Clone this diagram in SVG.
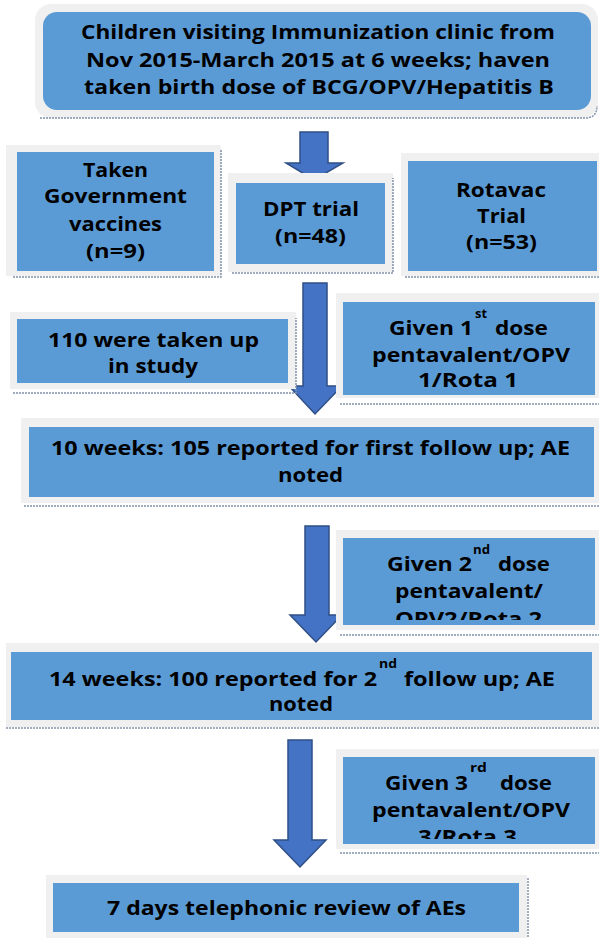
<svg xmlns="http://www.w3.org/2000/svg" width="599" height="938" viewBox="0 0 599 938">
<style>
.frame{fill:#f0f0f0}
.shadow{stroke:#8193ab;stroke-width:1.5;stroke-dasharray:2 1;fill:none}
.box{fill:#5b9bd5}
.t{font-family:"Open Sans",Lato,"Liberation Sans",sans-serif;font-weight:bold;font-size:19.5px;fill:#000}
.sup{font-size:12px}
.arrow{fill:#4472c4;stroke:#2f4f85;stroke-width:1.5}
</style>
<defs>
<clipPath id="c2"><rect x="343" y="538" width="256" height="82"/></clipPath>
<clipPath id="c3"><rect x="343" y="757" width="256" height="82"/></clipPath>
</defs>
<rect width="599" height="938" fill="#fff"/>

<g id="connectors">
<path class="arrow" d="M300,132 H328 V163 H343 L314,180 L286,163 H300 Z"/>
<path class="arrow" d="M303,283 H327 V386 H342 L315,414 L289,386 H303 Z"/>
<path class="arrow" d="M305,526 H329 V615 H342 L316,642 L290,615 H305 Z"/>
<path class="arrow" d="M288,740 H312 V840 H326 L300,867 L274,840 H288 Z"/>
</g>

<g id="n-start">
<rect class="frame" x="35" y="4" width="563" height="114" rx="16"/>
<path class="shadow" d="M40,118 H585 Q597,118 597,106"/>
<rect class="box" x="43" y="12" width="548" height="98" rx="14"/>
<text class="t" x="81" y="39" textLength="474" lengthAdjust="spacingAndGlyphs">Children visiting Immunization clinic from</text>
<text class="t" x="86" y="67" textLength="464" lengthAdjust="spacingAndGlyphs">Nov 2015-March 2015 at 6 weeks; haven</text>
<text class="t" x="84" y="94" textLength="470" lengthAdjust="spacingAndGlyphs">taken birth dose of BCG/OPV/Hepatitis B</text>
</g>

<g id="n-gov">
<rect class="frame" x="6" y="145" width="215" height="131"/>
<path class="shadow" d="M13,277 H221 V150"/>
<rect class="box" x="17" y="152" width="197" height="119"/>
<text class="t" x="83" y="177" textLength="65" lengthAdjust="spacingAndGlyphs">Taken</text>
<text class="t" x="44" y="203" textLength="143" lengthAdjust="spacingAndGlyphs">Government</text>
<text class="t" x="69" y="231" textLength="93" lengthAdjust="spacingAndGlyphs">vaccines</text>
<text class="t" x="86" y="258" textLength="59" lengthAdjust="spacingAndGlyphs">(n=9)</text>
</g>

<g id="n-dpt">
<rect class="frame" x="228" y="173" width="165" height="99"/>
<path class="shadow" d="M232,273 H393 V178"/>
<rect class="box" x="236" y="183" width="149" height="81"/>
<text class="t" x="263" y="216" textLength="96" lengthAdjust="spacingAndGlyphs">DPT trial</text>
<text class="t" x="275" y="243" textLength="71" lengthAdjust="spacingAndGlyphs">(n=48)</text>
</g>

<g id="n-rota">
<rect class="frame" x="401" y="153" width="198" height="123"/>
<path class="shadow" d="M405,277 H599"/>
<rect class="box" x="408" y="161" width="189" height="110"/>
<text class="t" x="456" y="197" textLength="90" lengthAdjust="spacingAndGlyphs">Rotavac</text>
<text class="t" x="477" y="223" textLength="49" lengthAdjust="spacingAndGlyphs">Trial</text>
<text class="t" x="466" y="249" textLength="71" lengthAdjust="spacingAndGlyphs">(n=53)</text>
</g>

<g id="n-110">
<rect class="frame" x="10" y="312" width="286" height="77"/>
<path class="shadow" d="M13,393 H296 V318"/>
<rect class="box" x="17" y="319" width="271" height="64"/>
<text class="t" x="48" y="347" textLength="211" lengthAdjust="spacingAndGlyphs">110 were taken up</text>
<text class="t" x="108" y="373" textLength="90" lengthAdjust="spacingAndGlyphs">in study</text>
</g>

<g id="n-dose1">
<rect class="frame" x="336" y="293" width="263" height="105"/>
<path class="shadow" d="M340,404 H599"/>
<rect class="box" x="343" y="302" width="252" height="93"/>
<text class="t" x="389" y="335" textLength="84" lengthAdjust="spacingAndGlyphs">Given 1</text>
<text class="t sup" x="475" y="318" textLength="12" lengthAdjust="spacingAndGlyphs">st</text>
<text class="t" x="495" y="335" textLength="53" lengthAdjust="spacingAndGlyphs">dose</text>
<text class="t" x="372" y="362" textLength="198" lengthAdjust="spacingAndGlyphs">pentavalent/OPV</text>
<text class="t" x="418" y="387" textLength="100" lengthAdjust="spacingAndGlyphs">1/Rota 1</text>
</g>

<g id="n-10wk">
<rect class="frame" x="21" y="418" width="578" height="85"/>
<path class="shadow" d="M24,506 H599"/>
<rect class="box" x="29" y="427" width="565" height="70"/>
<text class="t" x="51" y="455" textLength="519" lengthAdjust="spacingAndGlyphs">10 weeks: 105 reported for first follow up; AE</text>
<text class="t" x="278" y="482" textLength="65" lengthAdjust="spacingAndGlyphs">noted</text>
</g>

<g id="n-dose2">
<rect class="frame" x="336" y="530" width="263" height="100"/>
<path class="shadow" d="M340,635 H599"/>
<rect class="box" x="343" y="538" width="252" height="87"/>
<g clip-path="url(#c2)">
<text class="t" x="387" y="571" textLength="85" lengthAdjust="spacingAndGlyphs">Given 2</text>
<text class="t sup" x="473" y="554" textLength="17" lengthAdjust="spacingAndGlyphs">nd</text>
<text class="t" x="498" y="571" textLength="52" lengthAdjust="spacingAndGlyphs">dose</text>
<text class="t" x="395" y="598" textLength="148" lengthAdjust="spacingAndGlyphs">pentavalent/</text>
<text class="t" x="395" y="626" textLength="147" lengthAdjust="spacingAndGlyphs">OPV2/Rota 2</text>
</g>
</g>

<g id="n-14wk">
<rect class="frame" x="6" y="643" width="593" height="84"/>
<path class="shadow" d="M6,728 H599"/>
<rect class="box" x="11" y="652" width="581" height="68"/>
<text class="t" x="49" y="686" textLength="328" lengthAdjust="spacingAndGlyphs">14 weeks: 100 reported for 2</text>
<text class="t sup" x="379" y="668" textLength="18" lengthAdjust="spacingAndGlyphs">nd</text>
<text class="t" x="404" y="686" textLength="151" lengthAdjust="spacingAndGlyphs">follow up; AE</text>
<text class="t" x="269" y="711" textLength="64" lengthAdjust="spacingAndGlyphs">noted</text>
</g>

<g id="n-dose3">
<rect class="frame" x="336" y="749" width="263" height="100"/>
<path class="shadow" d="M340,853 H599"/>
<rect class="box" x="343" y="757" width="252" height="87"/>
<g clip-path="url(#c3)">
<text class="t" x="385" y="790" textLength="83" lengthAdjust="spacingAndGlyphs">Given 3</text>
<text class="t sup" x="470" y="772" textLength="17" lengthAdjust="spacingAndGlyphs">rd</text>
<text class="t" x="500" y="790" textLength="52" lengthAdjust="spacingAndGlyphs">dose</text>
<text class="t" x="372" y="817" textLength="198" lengthAdjust="spacingAndGlyphs">pentavalent/OPV</text>
<text class="t" x="418" y="844" textLength="99" lengthAdjust="spacingAndGlyphs">3/Rota 3</text>
</g>
</g>

<g id="n-7days">
<rect class="frame" x="46" y="875" width="481" height="63"/>
<path class="shadow" d="M528,878 V938"/>
<rect class="box" x="53" y="883" width="466" height="49"/>
<text class="t" x="107" y="915" textLength="359" lengthAdjust="spacingAndGlyphs">7 days telephonic review of AEs</text>
</g>
</svg>
